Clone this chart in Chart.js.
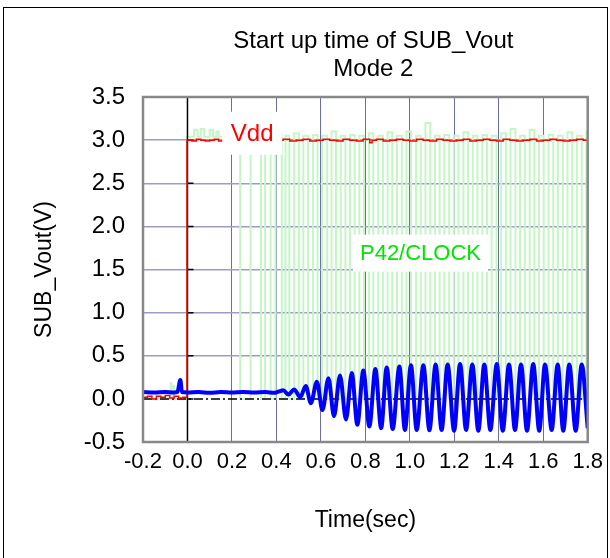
<!DOCTYPE html>
<html>
<head>
<meta charset="utf-8">
<title>Start up time of SUB_Vout</title>
<script src="https://cdn.jsdelivr.net/npm/chart.js@4.4.1/dist/chart.umd.min.js"></script>
<style>
	html, body { margin: 0; padding: 0; background: #fff; }
	#wrap { width: 610px; height: 558px; }
</style>
</head>
<body>
<div id="wrap"><canvas id="startupChart" width="610" height="558"></canvas></div>
<script>
// chart text
var titleLines = ["Start up time of SUB_Vout", "Mode 2"];
var xTitle = "Time(sec)";
var yTitle = "SUB_Vout(V)";

// tick values
var xTicks = [-0.2, 0.0, 0.2, 0.4, 0.6, 0.8, 1.0, 1.2, 1.4, 1.6, 1.8];
var yTicks = [-0.5, 0.0, 0.5, 1.0, 1.5, 2.0, 2.5, 3.0, 3.5];

// SUB_Vout (blue)
var voutTime = [-0.2, -0.15, -0.1, -0.06, -0.045, -0.032, -0.025, 0.0, 0.05, 0.1, 0.15, 0.2, 0.25, 0.3, 0.35, 0.39, 0.41,
	0.431, 0.454, 0.480, 0.507, 0.532, 0.555, 0.582, 0.607, 0.634, 0.659, 0.686, 0.713, 0.739, 0.764,
	0.791, 0.818, 0.845, 0.871, 0.896, 0.923, 0.953, 0.978, 1.005, 1.031, 1.061, 1.088, 1.116, 1.143,
	1.170, 1.199, 1.226, 1.253, 1.281, 1.308, 1.335, 1.362, 1.391, 1.418, 1.446, 1.473, 1.500, 1.527,
	1.555, 1.582, 1.608, 1.638, 1.665, 1.690, 1.717, 1.746, 1.773, 1.800];
var voutVolt = [0.08, 0.075, 0.08, 0.075, 0.08, 0.22, 0.08, 0.075, 0.08, 0.07, 0.08, 0.075, 0.08, 0.075, 0.08, 0.07, 0.085,
	0.10, 0.05, 0.11, 0.02, 0.15, -0.05, 0.20, -0.13, 0.24, -0.20, 0.27, -0.24, 0.30, -0.30,
	0.33, -0.32, 0.345, -0.34, 0.365, -0.35, 0.375, -0.36, 0.39, -0.36, 0.39, -0.365, 0.40, -0.36,
	0.40, -0.37, 0.405, -0.36, 0.40, -0.37, 0.40, -0.36, 0.405, -0.37, 0.40, -0.36, 0.40, -0.37,
	0.405, -0.37, 0.40, -0.36, 0.40, -0.37, 0.40, -0.37, 0.40, -0.34];

// Vdd (red)
var vddTime = [-0.2, -0.18, -0.16, -0.14, -0.12, -0.10, -0.08, -0.06, -0.04, -0.02,
	-0.002, 0.02, 0.04, 0.06, 0.08, 0.10, 0.12, 0.14, 0.16, 0.20,
	0.30, 0.40, 0.43, 0.46, 0.49, 0.52, 0.55, 0.58, 0.61, 0.64,
	0.67, 0.70, 0.73, 0.76, 0.79, 0.82, 0.83, 0.85, 0.88, 0.91,
	0.94, 0.97, 1.00, 1.03, 1.06, 1.09, 1.12, 1.15, 1.18, 1.21,
	1.24, 1.27, 1.30, 1.33, 1.36, 1.39, 1.42, 1.45, 1.48, 1.51,
	1.54, 1.57, 1.60, 1.63, 1.66, 1.69, 1.72, 1.75, 1.78, 1.80];
var vddVolt = [0.02, 0.03, 0.00, 0.03, 0.02, 0.04, 0.01, 0.03, 0.01, 0.02,
	3.00, 2.99, 3.01, 3.00, 2.99, 3.00, 3.01, 2.99, 3.00, 3.00,
	3.00, 3.00, 3.01, 2.99, 3.00, 3.01, 2.99, 3.00, 3.01, 3.00,
	2.99, 3.01, 3.00, 2.99, 3.01, 2.97, 3.00, 3.01, 2.99, 3.00,
	3.01, 3.00, 2.99, 3.01, 3.00, 2.99, 3.01, 3.00, 2.99, 3.00,
	3.01, 2.99, 3.00, 3.01, 3.00, 2.99, 3.01, 3.00, 2.99, 3.00,
	3.01, 2.99, 3.00, 3.01, 3.00, 2.99, 3.00, 3.01, 3.00, 3.00];

// P42/CLOCK (green), level after each edge
var clockTime = [-0.2, -0.075, -0.072, -0.063, -0.060, -0.002, 0.030, 0.045, 0.060, 0.075, 0.100, 0.115, 0.130, 0.140,
	0.237, 0.284, 0.331, 0.349, 0.374, 0.396, 0.424, 0.441, 0.458, 0.480,
	0.501, 0.521, 0.542, 0.565, 0.585, 0.605, 0.628, 0.648, 0.668, 0.689,
	0.710, 0.731, 0.752, 0.773, 0.794, 0.816, 0.836, 0.858, 0.879, 0.900,
	0.921, 0.942, 0.964, 0.985, 1.006, 1.028, 1.049, 1.070, 1.092, 1.113,
	1.134, 1.155, 1.177, 1.198, 1.219, 1.241, 1.262, 1.283, 1.304, 1.326,
	1.347, 1.368, 1.390, 1.411, 1.432, 1.453, 1.475, 1.496, 1.517, 1.539,
	1.560, 1.581, 1.602, 1.624, 1.645, 1.666, 1.688, 1.709, 1.730, 1.751,
	1.773, 1.794, 1.800];
var clockVolt = [0.00, 0.18, 0.00, 0.15, 0.00, 3.04, 3.12, 3.04, 3.13, 3.04, 3.12, 3.04, 3.10, 3.04,
	0.00, 3.05, 0.00, 3.05, 0.00, 3.06, 0.00, 3.05, 0.00, 3.08,
	0.00, 3.05, 0.00, 3.06, 0.00, 3.05, 0.00, 3.10, 0.00, 3.05,
	0.00, 3.06, 0.00, 3.05, 0.00, 3.08, 0.00, 3.05, 0.00, 3.09,
	0.00, 3.05, 0.00, 3.10, 0.00, 3.05, 0.00, 3.20, 0.00, 3.05,
	0.00, 3.06, 0.00, 3.05, 0.00, 3.09, 0.00, 3.05, 0.00, 3.06,
	0.00, 3.05, 0.00, 3.08, 0.00, 3.13, 0.00, 3.05, 0.00, 3.12,
	0.00, 3.05, 0.00, 3.06, 0.00, 3.05, 0.00, 3.09, 0.00, 3.05,
	0.00, 3.10, 3.10];

function toPoints(xs, ys) {
	return xs.map(function(x, i) { return { x: x, y: ys[i] }; });
}

// in-plot series labels, anchored in data units
var seriesLabels = [
	{ text: "Vdd", t: 0.291, v: 3.08, w: 60, h: 43, color: "#ff0000", size: 24 },
	{ text: "P42/CLOCK", t: 1.048, v: 1.69, w: 135, h: 37, color: "#00e600", size: 22 }
];

var FONT = "'Liberation Sans', Arial, Helvetica, sans-serif";
Chart.defaults.font.family = FONT;
Chart.defaults.color = "#000";

var decorPlugin = {
	id: 'decor',
	beforeDraw: function(chart) {
		var ctx = chart.ctx;
		var area = chart.chartArea;
		ctx.save();
		ctx.fillStyle = '#fff';
		ctx.fillRect(0, 0, chart.width, chart.height);
		ctx.strokeStyle = '#000';
		ctx.lineWidth = 1;
		ctx.strokeRect(3.5, 7.5, 604, 560);
		ctx.fillStyle = '#000';
		ctx.font = '24px ' + FONT;
		ctx.textAlign = 'center';
		ctx.textBaseline = 'middle';
		var cx = (area.left + area.right) / 2 + 8;
		ctx.fillText(titleLines[0], cx, 41);
		ctx.fillText(titleLines[1], cx, 69);
		ctx.restore();
	},
	afterDatasetDraw: function(chart, args) {
		// axes at zero sit above the clock trace but under Vdd / SUB_Vout
		if (args.index !== 2) return;
		var ctx = chart.ctx;
		var area = chart.chartArea;
		var xs = chart.scales.x, ys = chart.scales.y;
		var x0 = xs.getPixelForValue(0), y0 = ys.getPixelForValue(0);
		ctx.save();
		ctx.strokeStyle = '#000';
		ctx.lineWidth = 1.5;
		ctx.beginPath();
		ctx.moveTo(x0, area.top);
		ctx.lineTo(x0, area.bottom);
		yTicks.forEach(function(v) {
			var y = ys.getPixelForValue(v);
			ctx.moveTo(x0, y);
			ctx.lineTo(x0 + 6, y);
		});
		ctx.stroke();
		ctx.setLineDash([9, 3, 2, 3]);
		ctx.beginPath();
		ctx.moveTo(area.left, y0);
		ctx.lineTo(area.right, y0);
		ctx.stroke();
		ctx.restore();
	},
	afterDatasetsDraw: function(chart) {
		var ctx = chart.ctx;
		var area = chart.chartArea;
		var xs = chart.scales.x, ys = chart.scales.y;
		ctx.save();
		seriesLabels.forEach(function(lb) {
			var px = xs.getPixelForValue(lb.t), py = ys.getPixelForValue(lb.v);
			ctx.fillStyle = '#fff';
			ctx.fillRect(px - lb.w / 2, py - lb.h / 2, lb.w, lb.h);
			ctx.fillStyle = lb.color;
			ctx.font = lb.size + 'px ' + FONT;
			ctx.textAlign = 'center';
			ctx.textBaseline = 'middle';
			ctx.fillText(lb.text, px, py + 1);
		});
		ctx.strokeStyle = '#888';
		ctx.lineWidth = 2.5;
		ctx.strokeRect(area.left, area.top, area.right - area.left, area.bottom - area.top);
		ctx.restore();
	}
};

var startupChart = new Chart(document.getElementById('startupChart'), {
	type: 'line',
	data: {
		datasets: [
			{
				label: 'SUB_Vout',
				data: toPoints(voutTime, voutVolt),
				borderColor: '#0000ff',
				borderWidth: 4,
				pointRadius: 0,
				cubicInterpolationMode: 'monotone',
				fill: false
			},
			{
				label: 'Vdd',
				data: toPoints(vddTime, vddVolt),
				borderColor: '#ff0000',
				borderWidth: 1.5,
				pointRadius: 0,
				stepped: true,
				fill: false
			},
			{
				label: 'P42/CLOCK',
				data: toPoints(clockTime, clockVolt),
				borderColor: '#c4f7c4',
				borderWidth: 2,
				pointRadius: 0,
				stepped: true,
				fill: false
			}
		]
	},
	options: {
		responsive: false,
		animation: false,
		devicePixelRatio: 1,
		layout: { padding: { top: 97, right: 22, bottom: 16, left: 0 } },
		plugins: {
			legend: { display: false },
			tooltip: { enabled: false },
			title: { display: false }
		},
		scales: {
			x: {
				type: 'linear',
				min: -0.2,
				max: 1.8,
				afterBuildTicks: function(scale) {
					scale.ticks = xTicks.map(function(v) { return { value: v }; });
				},
				afterFit: function(scale) { scale.height = 100; },
				ticks: {
					autoSkip: false,
					maxRotation: 0,
					padding: 7,
					color: '#000',
					font: { size: 22 },
					callback: function(v) { return Number(v).toFixed(1); }
				},
				grid: {
					drawTicks: false,
					lineWidth: 1,
					color: function(c) {
						return (c.tick && Math.abs(c.tick.value) < 1e-9) ? 'rgba(0,0,0,0)' : '#6e6ea6';
					}
				},
				border: { display: false },
				title: { display: true, text: xTitle, color: '#000', font: { size: 23 }, padding: { top: 0, bottom: 8 } }
			},
			y: {
				type: 'linear',
				min: -0.5,
				max: 3.5,
				afterBuildTicks: function(scale) {
					scale.ticks = yTicks.map(function(v) { return { value: v }; });
				},
				afterFit: function(scale) { scale.width = 143; },
				ticks: {
					padding: 18,
					color: '#000',
					font: { size: 24 },
					callback: function(v) { return Number(v).toFixed(1); }
				},
				grid: {
					drawTicks: false,
					lineWidth: 1.5,
					color: function(c) {
						return (c.tick && Math.abs(c.tick.value) < 1e-9) ? 'rgba(0,0,0,0)' : '#9d9dc4';
					}
				},
				border: { display: false },
				title: { display: true, text: yTitle, color: '#000', font: { size: 23 }, padding: { top: 31, bottom: 0 } }
			}
		}
	},
	plugins: [decorPlugin]
});
</script>
</body>
</html>
